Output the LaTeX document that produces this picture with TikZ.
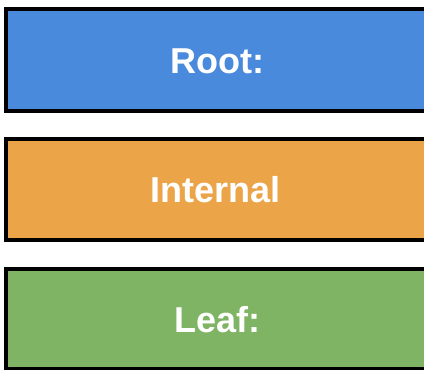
\documentclass[tikz,border=0pt]{standalone}
\usepackage{fontspec}
\setmainfont{Liberation Sans}
\definecolor{rootblue}{RGB}{74,138,220}
\definecolor{internalorange}{RGB}{235,164,72}
\definecolor{leafgreen}{RGB}{126,180,100}
\begin{document}
\begin{tikzpicture}[x=0.75pt,y=-0.75pt,
  box/.style={draw=black,line width=3pt},
  label/.style={text=white,font=\fontsize{27}{31}\selectfont\bfseries,anchor=center}]
\useasboundingbox (0,0) rectangle (424,369);
\clip (0,0) rectangle (424,369);
\fill[white] (0,0) rectangle (424,369);
% three stacked boxes, right edges run past the frame
\draw[box,fill=rootblue] (6,9) rectangle (428,111);
\draw[box,fill=internalorange] (6,139) rectangle (428,240);
\draw[box,fill=leafgreen] (6,269) rectangle (428,369);
\node[label] (root) at (217.5,61) {Root:};
\node[label] (internal) at (215.5,190) {Internal};
\node[label] (leaf) at (217.5,320) {Leaf:};
\end{tikzpicture}
\end{document}
